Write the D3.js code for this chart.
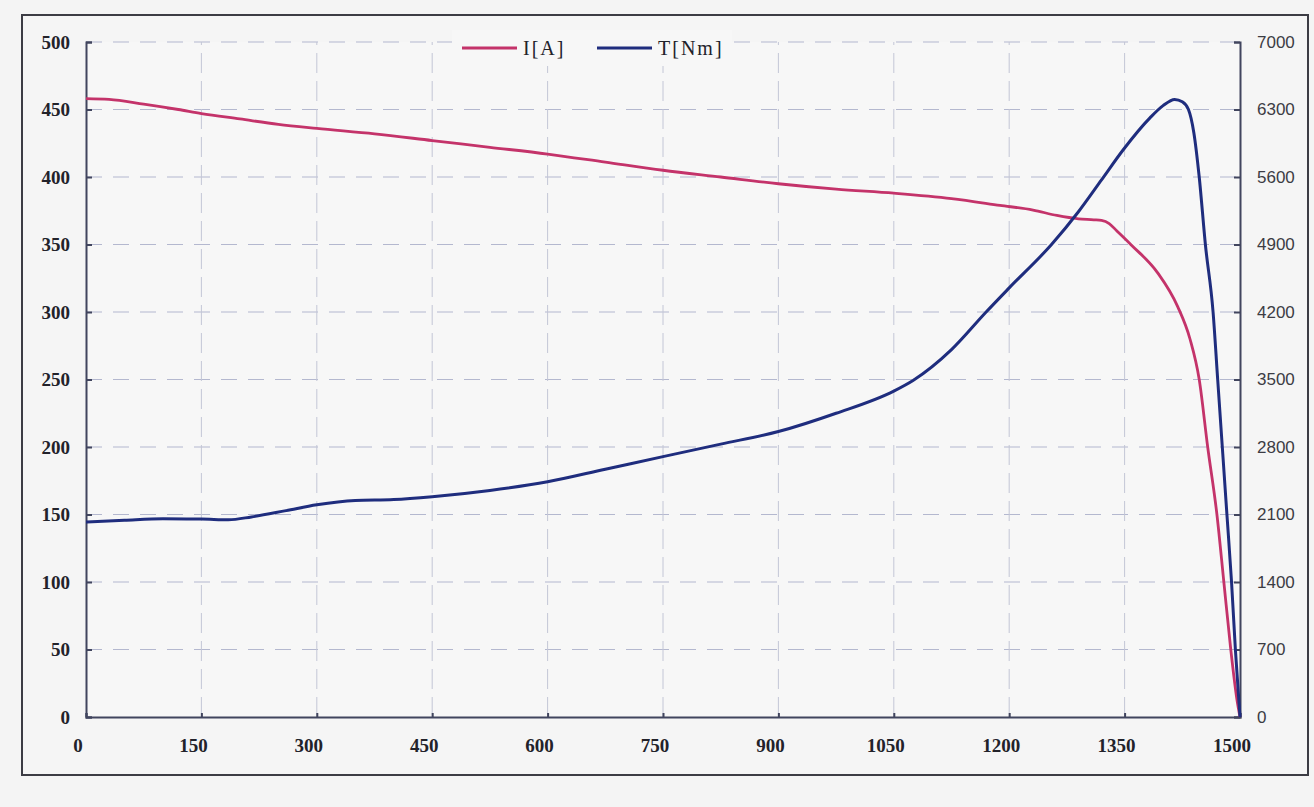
<!DOCTYPE html>
<html>
<head>
<meta charset="utf-8">
<script src="https://cdn.jsdelivr.net/npm/d3@7"></script>
<style>
  html, body { margin: 0; padding: 0; background: #f4f4f4; }
  svg { display: block; }
</style>
</head>
<body>
<svg id="chart" width="1314" height="807"></svg>
<script>
// ---- data ----
const xTicks = [0, 150, 300, 450, 600, 750, 900, 1050, 1200, 1350, 1500];
const leftTicks = [0, 50, 100, 150, 200, 250, 300, 350, 400, 450, 500];
const rightTicks = [0, 700, 1400, 2100, 2800, 3500, 4200, 4900, 5600, 6300, 7000];

const speedI = [0, 30, 75, 120, 150, 200, 250, 300, 375, 450, 525, 600, 675, 750, 825, 900, 975, 1050, 1125, 1188, 1231, 1262, 1290, 1310, 1320, 1330, 1340, 1358, 1393, 1419, 1435, 1447, 1458, 1470, 1479, 1488, 1496, 1500];
const currentI = [458, 457.5, 454, 450, 447, 443, 439, 436, 432, 427, 422, 417, 411, 405, 400, 395, 391, 388, 384, 379, 375.5, 371.5, 369, 368.3, 367.8, 365.5, 360, 350, 329, 304, 280, 250, 200, 150, 100, 50, 13, 0];

const speedT = [0, 50, 100, 150, 185, 215, 260, 300, 350, 400, 450, 525, 600, 675, 750, 825, 900, 975, 1050, 1075, 1125, 1170, 1200, 1255, 1290, 1320, 1348, 1383, 1400, 1415, 1425, 1433, 1440, 1447, 1455, 1465, 1471, 1477, 1483, 1489, 1494, 1500];
const torqueT = [2022, 2040, 2055, 2053, 2045, 2075, 2140, 2200, 2245, 2255, 2285, 2350, 2440, 2570, 2700, 2830, 2960, 3150, 3380, 3490, 3810, 4200, 4450, 4900, 5240, 5570, 5880, 6213, 6340, 6405, 6380, 6300, 6060, 5600, 4900, 4200, 3500, 2800, 2100, 1400, 700, 0];

const seriesNames = ["I[A]", "T[Nm]"];
const seriesColors = ["#c4336a", "#1f2d7e"];

// ---- layout ----
const svg = d3.select("#chart");
const L = 86, R = 1240, T = 42, B = 717;

const x = d3.scaleLinear().domain([0, 1500]).range([L, R]);
const yL = d3.scaleLinear().domain([0, 500]).range([B, T]);
const yR = d3.scaleLinear().domain([0, 7000]).range([B, T]);

// outer frame
svg.append("rect").attr("x", 22).attr("y", 15).attr("width", 1286).attr("height", 760)
  .attr("fill", "#f5f5f5").attr("stroke", "#3c3c44").attr("stroke-width", 2);

// plot bg
svg.append("rect").attr("x", L).attr("y", T).attr("width", R - L).attr("height", B - T)
  .attr("fill", "#f7f7f7");

// grid
const grid = svg.append("g");
grid.selectAll("line.h").data(leftTicks.filter(d => d > 0)).join("line")
  .attr("x1", L).attr("x2", R).attr("y1", d => yL(d)).attr("y2", d => yL(d))
  .attr("stroke", "#b4b8cf").attr("stroke-width", 1.2).attr("stroke-dasharray", "16,11");
grid.selectAll("line.v").data(xTicks.filter(d => d > 0 && d < 1500)).join("line")
  .attr("x1", d => x(d)).attr("x2", d => x(d)).attr("y1", B).attr("y2", T)
  .attr("stroke", "#c3c6d6").attr("stroke-width", 1).attr("stroke-dasharray", "20,8");

// axes
const axisColor = "#41455e";
const gl = svg.append("g").attr("transform", `translate(${L},0)`)
  .call(d3.axisRight(yL).tickValues(leftTicks).tickSize(6).tickFormat(""));
const gr = svg.append("g").attr("transform", `translate(${R},0)`)
  .call(d3.axisLeft(yR).tickValues(rightTicks).tickSize(6).tickFormat(""));
const gb = svg.append("g").attr("transform", `translate(0,${B})`)
  .call(d3.axisTop(x).tickValues(xTicks).tickSize(4).tickFormat(""));
[gl, gr, gb].forEach(g => {
  g.select(".domain").attr("stroke", axisColor).attr("stroke-width", 2);
  g.selectAll(".tick line").attr("stroke", axisColor).attr("stroke-width", 2);
});

// tick labels
svg.append("g").selectAll("text").data(leftTicks).join("text")
  .attr("x", 70).attr("y", d => yL(d)).attr("dy", "0.35em")
  .attr("text-anchor", "end")
  .attr("font-family", "Liberation Serif, serif").attr("font-weight", "bold")
  .attr("font-size", 19).attr("fill", "#22222a")
  .text(d => d);

svg.append("g").selectAll("text").data(rightTicks).join("text")
  .attr("x", 1257).attr("y", d => yR(d)).attr("dy", "0.35em")
  .attr("text-anchor", "start")
  .attr("font-family", "Liberation Sans, Arial, sans-serif")
  .attr("font-size", 17).attr("fill", "#3c3c44")
  .text(d => d);

svg.append("g").selectAll("text").data(xTicks).join("text")
  .attr("x", d => x(d) - 8).attr("y", 745).attr("dy", "0.35em")
  .attr("text-anchor", "middle")
  .attr("font-family", "Liberation Serif, serif").attr("font-weight", "bold")
  .attr("font-size", 19).attr("fill", "#22222a")
  .text(d => d);

// lines
const lineI = d3.line().x((d, i) => x(speedI[i])).y(d => yL(d)).curve(d3.curveMonotoneX);
const lineT = d3.line().x((d, i) => x(speedT[i])).y(d => yR(d)).curve(d3.curveMonotoneX);

svg.append("path").attr("d", lineI(currentI))
  .attr("fill", "none").attr("stroke", seriesColors[0]).attr("stroke-width", 2.8)
  .attr("stroke-linejoin", "round");
svg.append("path").attr("d", lineT(torqueT))
  .attr("fill", "none").attr("stroke", seriesColors[1]).attr("stroke-width", 3)
  .attr("stroke-linejoin", "round");

// legend
svg.append("rect").attr("x", 452).attr("y", 30).attr("width", 280).attr("height", 36)
  .attr("fill", "#f7f7f7");
const legendPos = [{lx: 462, tx: 523}, {lx: 597, tx: 658}];
const lg = svg.append("g");
seriesNames.forEach((name, i) => {
  lg.append("line").attr("x1", legendPos[i].lx).attr("x2", legendPos[i].lx + 55)
    .attr("y1", 48).attr("y2", 48)
    .attr("stroke", seriesColors[i]).attr("stroke-width", 3);
  lg.append("text").attr("x", legendPos[i].tx).attr("y", 48).attr("dy", "0.35em")
    .attr("font-family", "Liberation Serif, serif").attr("font-size", 20)
    .attr("letter-spacing", 2).attr("fill", "#22222a")
    .text(name);
});
</script>
</body>
</html>
